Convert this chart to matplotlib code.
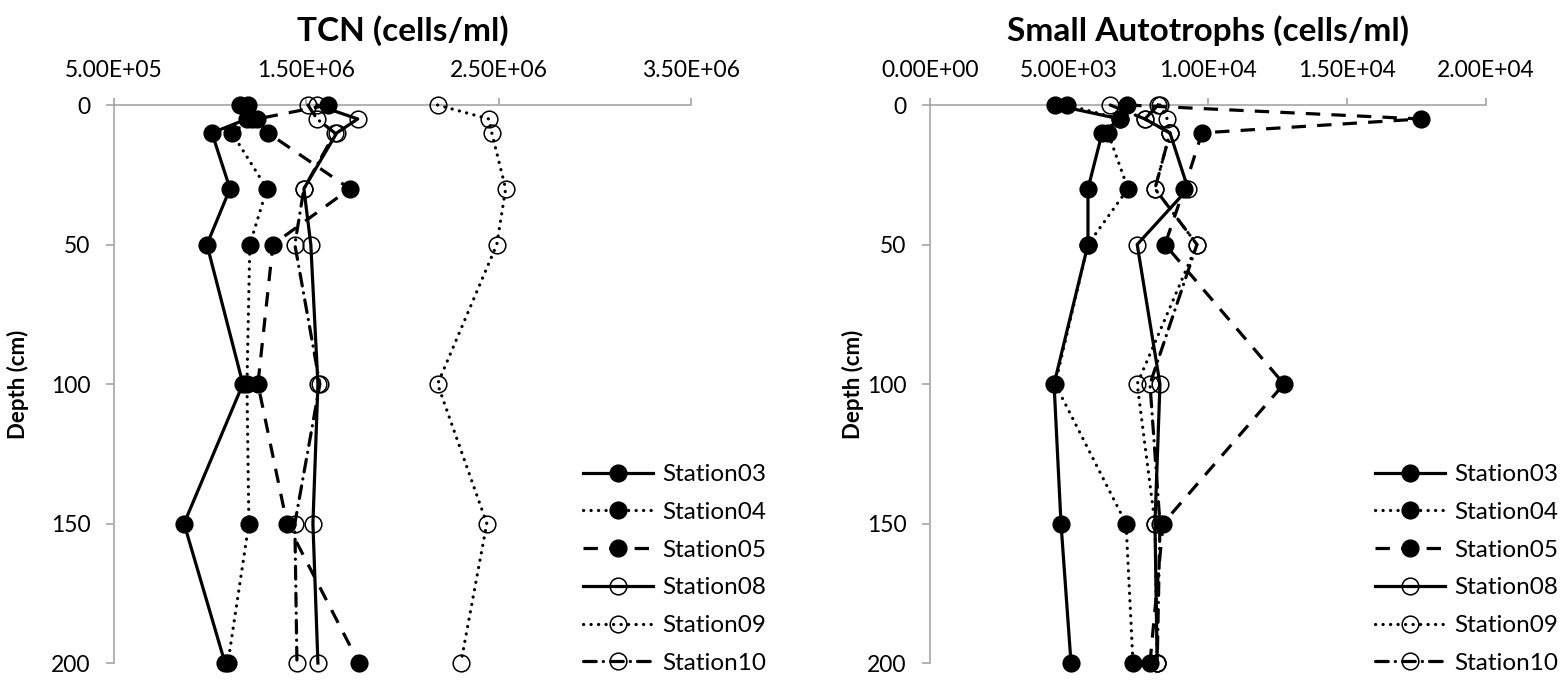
import matplotlib
matplotlib.use("Agg")
import matplotlib.pyplot as plt
from matplotlib.ticker import FuncFormatter, FixedLocator, MultipleLocator

plt.rcParams['font.family'] = ['Lato', 'DejaVu Sans']

depth = [0, 5, 10, 30, 50, 100, 150, 200]
stations = ["Station03", "Station04", "Station05", "Station08", "Station09", "Station10"]

# TCN (cells/ml)
tcn_s03 = [1.155e6, 1.191e6, 1.009e6, 1.103e6, 0.983e6, 1.170e6, 0.864e6, 1.077e6]
tcn_s04 = [1.196e6, 1.217e6, 1.113e6, 1.295e6, 1.206e6, 1.191e6, 1.201e6, 1.092e6]
tcn_s05 = [1.612e6, 1.243e6, 1.300e6, 1.726e6, 1.326e6, 1.248e6, 1.399e6, 1.773e6]
tcn_s08 = [1.555e6, 1.767e6, 1.658e6, 1.487e6, 1.523e6, 1.560e6, 1.534e6, 1.560e6]
tcn_s09 = [2.182e6, 2.448e6, 2.464e6, 2.536e6, 2.490e6, 2.182e6, 2.438e6, 2.303e6]
tcn_s10 = [1.508e6, 1.555e6, 1.648e6, 1.487e6, 1.440e6, 1.570e6, 1.440e6, 1.451e6]
tcn_ticks = [5e5, 1.5e6, 2.5e6, 3.5e6]

# Small autotrophs (cells/ml)
auto_s03 = [4500, 6830, 6190, 5680, 5680, 4460, 4710, 5070]
auto_s04 = [4930, 6830, 6400, 7120, 5680, 4500, 7050, 7300]
auto_s05 = [7090, 17650, 9780, 9140, 8450, 12730, 8380, 7910]
auto_s08 = [8200, 7730, 8630, 9280, 7450, 8270, 8090, 8170]
auto_s09 = [8270, 8530, 8630, 8090, 9600, 7450, 8090, 8170]
auto_s10 = [6480, 7730, 8630, 8090, 9600, 7910, 8270, 8170]
auto_ticks = [0, 5e3, 1e4, 1.5e4, 2e4]

tcn = [tcn_s03, tcn_s04, tcn_s05, tcn_s08, tcn_s09, tcn_s10]
auto = [auto_s03, auto_s04, auto_s05, auto_s08, auto_s09, auto_s10]

DOT = (0, (0.05, 2.3))
DASH = (0, (4.5, 3.5))
DASHDOT = (0, (4.0, 2.2, 0.05, 2.2))
line_styles = ['-', DOT, DASH, '-', DOT, DASHDOT]
filled = [True, True, True, False, False, False]

AXIS_GRAY = '#A6A6A6'


def sci(v, pos):
    return f"{v:.2E}"


def draw_panel(ax, values, title, ticks, legend_x):
    for name, vals, ls, fill in zip(stations, values, line_styles, filled):
        cap = 'round' if ls in (DOT, DASHDOT) else 'butt'
        ax.plot(vals, depth, color='black', linestyle=ls, linewidth=2.3,
                dash_capstyle=cap, marker='o', markersize=12,
                markerfacecolor='black' if fill else 'none',
                markeredgecolor='black', markeredgewidth=1.1,
                label=name, clip_on=False, zorder=3)

    ax.set_xlim(ticks[0], ticks[-1])
    ax.set_ylim(200, 0)
    ax.xaxis.tick_top()
    ax.xaxis.set_major_locator(FixedLocator(ticks))
    ax.xaxis.set_major_formatter(FuncFormatter(sci))
    ax.yaxis.set_major_locator(MultipleLocator(50))

    for side in ['right', 'bottom']:
        ax.spines[side].set_visible(False)
    for side in ['top', 'left']:
        ax.spines[side].set_color(AXIS_GRAY)
        ax.spines[side].set_linewidth(1.2)

    ax.tick_params(axis='x', direction='out', length=5, width=1.2,
                   color=AXIS_GRAY, labelsize=16.5, pad=12)
    ax.tick_params(axis='y', direction='out', length=6, width=1.2,
                   color=AXIS_GRAY, labelsize=16.5, pad=11)

    ax.set_title(title, fontsize=24, fontweight='bold', pad=14)
    ax.set_ylabel("Depth (cm)", fontsize=16, fontweight='bold')

    ax.legend(loc='center left', bbox_to_anchor=(legend_x, 0.1645),
              bbox_transform=ax.figure.transFigure, frameon=False,
              fontsize=17.5, handlelength=2.9, handletextpad=0.35,
              labelspacing=0.69, borderpad=0, borderaxespad=0)


fig = plt.figure(figsize=(15.6, 6.81), dpi=100)
ax1 = fig.add_axes([0.0731, 0.0264, 0.3699, 0.8194])
ax2 = fig.add_axes([0.5962, 0.0264, 0.3564, 0.8194])

draw_panel(ax1, tcn, "TCN (cells/ml)", tcn_ticks, 0.3737)
draw_panel(ax2, auto, "Small Autotrophs (cells/ml)", auto_ticks, 0.8814)

ax1.yaxis.set_label_coords(-0.147, 0.5)
ax2.yaxis.set_label_coords(-0.118, 0.5)

fig.savefig("out.png", dpi=100)
